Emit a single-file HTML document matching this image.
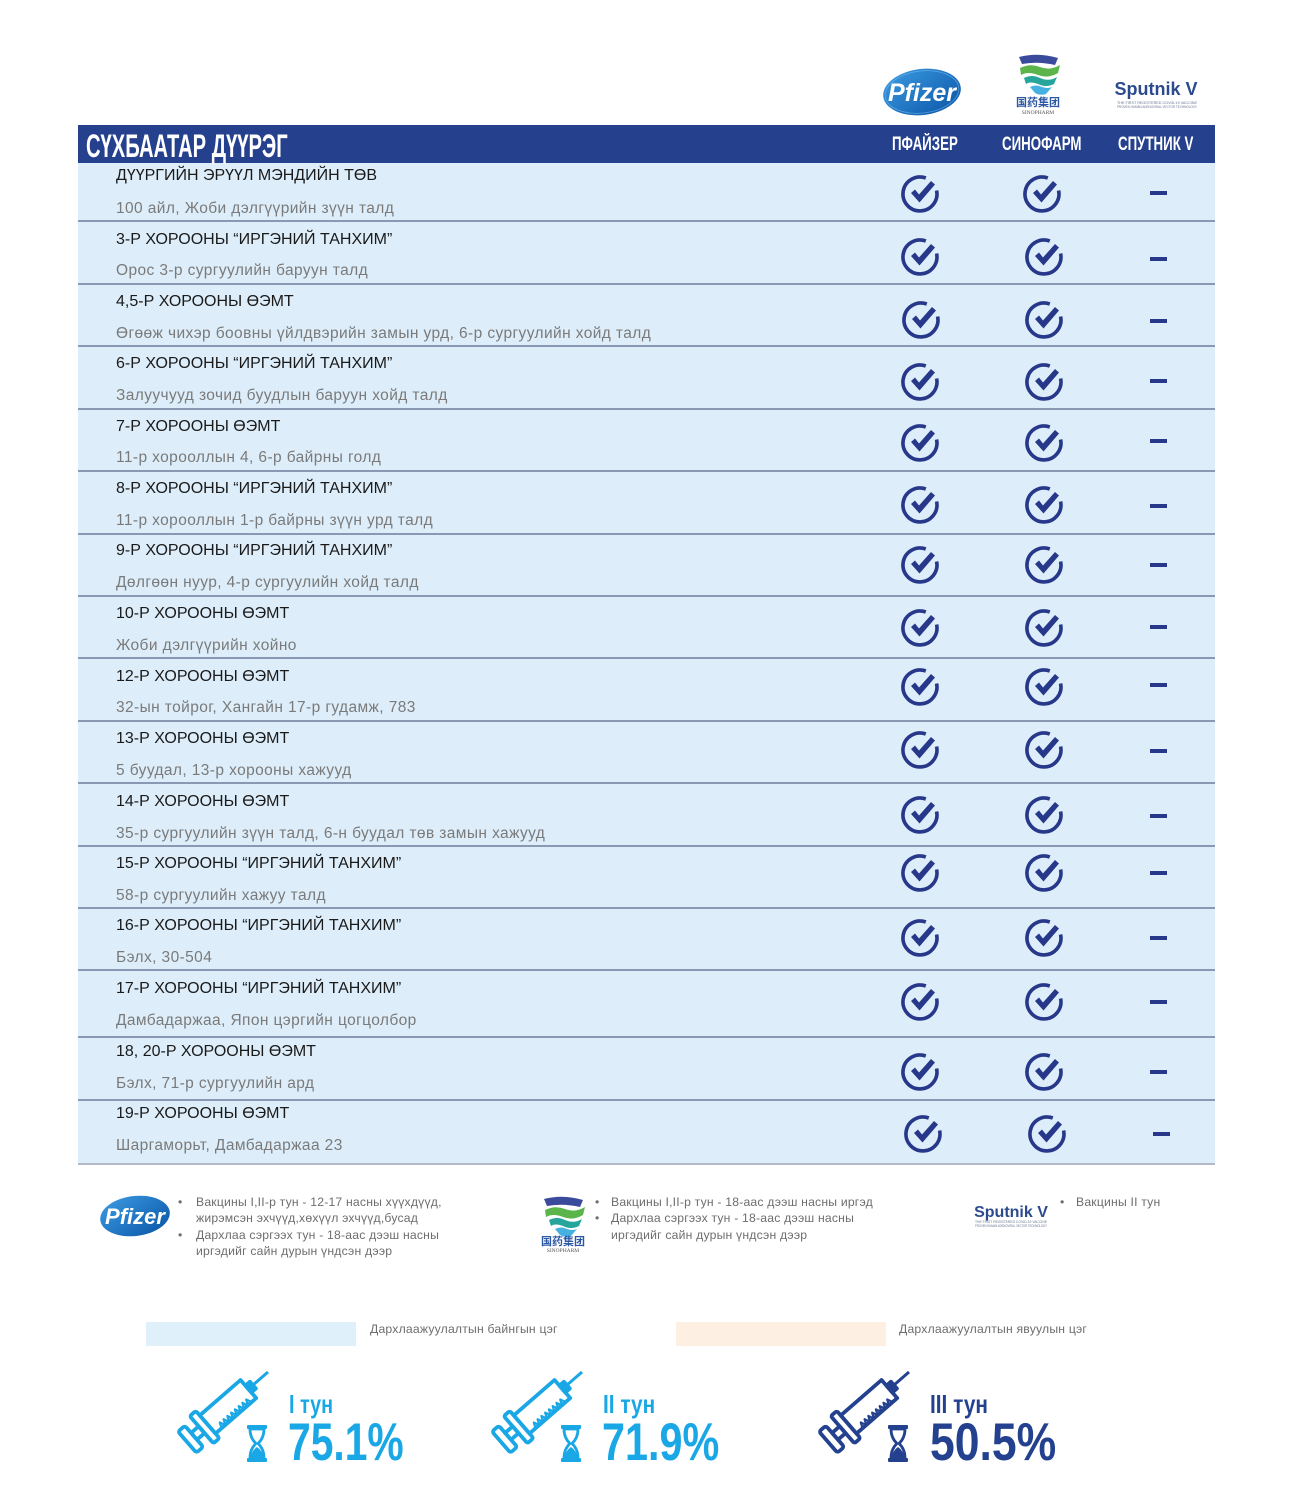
<!DOCTYPE html>
<html><head><meta charset="utf-8">
<style>
html,body{margin:0;padding:0;background:#fff;}
#w{position:relative;width:1293px;height:1500px;overflow:hidden;background:#fff;font-family:"Liberation Sans","Noto Sans CJK SC",sans-serif;}
svg.bg{position:absolute;left:0;top:0;}
.a{position:absolute;white-space:nowrap;line-height:1;}
.c{transform-origin:0 0;font-weight:bold;}
.t{left:116px;font-size:16px;color:#1a1a1a;}
.s{left:116px;font-size:15.5px;color:#7a7a7a;letter-spacing:0.4px;}
.f{font-size:12.2px;color:#6d6d6d;letter-spacing:0.2px;}
.h{color:#fff;font-size:19px;transform:scaleX(0.70);}
</style></head><body><div id="w">
<svg class="bg" width="1293" height="1500" viewBox="0 0 1293 1500" xmlns="http://www.w3.org/2000/svg">
<defs>
<linearGradient id="pg" x1="0" y1="0" x2="1" y2="1">
<stop offset="0" stop-color="#3c9be2"/><stop offset="1" stop-color="#0a55a6"/>
</linearGradient>
</defs>
<!-- table -->
<rect x="78" y="125" width="1137" height="38" fill="#25408d"/>
<rect x="78" y="163" width="1137" height="1001" fill="#ddeefa"/>
<g fill="#8a98b3">
<rect x="78" y="220" width="1137" height="2"/>
<rect x="78" y="283" width="1137" height="2"/>
<rect x="78" y="345" width="1137" height="2"/>
<rect x="78" y="408" width="1137" height="2"/>
<rect x="78" y="470" width="1137" height="2"/>
<rect x="78" y="533" width="1137" height="2"/>
<rect x="78" y="595" width="1137" height="2"/>
<rect x="78" y="657" width="1137" height="2"/>
<rect x="78" y="720" width="1137" height="2"/>
<rect x="78" y="782" width="1137" height="2"/>
<rect x="78" y="845" width="1137" height="2"/>
<rect x="78" y="907" width="1137" height="2"/>
<rect x="78" y="969" width="1137" height="2"/>
<rect x="78" y="1036" width="1137" height="2"/>
<rect x="78" y="1099" width="1137" height="2"/>
</g>
<rect x="78" y="1163" width="1137" height="2" fill="#b3b9c4"/>

<!-- checks -->
<g fill="none" stroke="#27388a" stroke-width="3.6">
<path transform="translate(920,194)" d="M5.8,-16 A17,17 0 1 0 16.6,-3.5"/>
<path transform="translate(1042,194)" d="M5.8,-16 A17,17 0 1 0 16.6,-3.5"/>
<path transform="translate(920,257)" d="M5.8,-16 A17,17 0 1 0 16.6,-3.5"/>
<path transform="translate(1044,257)" d="M5.8,-16 A17,17 0 1 0 16.6,-3.5"/>
<path transform="translate(921,320)" d="M5.8,-16 A17,17 0 1 0 16.6,-3.5"/>
<path transform="translate(1044,320)" d="M5.8,-16 A17,17 0 1 0 16.6,-3.5"/>
<path transform="translate(920,382)" d="M5.8,-16 A17,17 0 1 0 16.6,-3.5"/>
<path transform="translate(1044,382)" d="M5.8,-16 A17,17 0 1 0 16.6,-3.5"/>
<path transform="translate(920,443)" d="M5.8,-16 A17,17 0 1 0 16.6,-3.5"/>
<path transform="translate(1044,443)" d="M5.8,-16 A17,17 0 1 0 16.6,-3.5"/>
<path transform="translate(920,505)" d="M5.8,-16 A17,17 0 1 0 16.6,-3.5"/>
<path transform="translate(1044,505)" d="M5.8,-16 A17,17 0 1 0 16.6,-3.5"/>
<path transform="translate(920,565)" d="M5.8,-16 A17,17 0 1 0 16.6,-3.5"/>
<path transform="translate(1044,565)" d="M5.8,-16 A17,17 0 1 0 16.6,-3.5"/>
<path transform="translate(920,628)" d="M5.8,-16 A17,17 0 1 0 16.6,-3.5"/>
<path transform="translate(1044,628)" d="M5.8,-16 A17,17 0 1 0 16.6,-3.5"/>
<path transform="translate(920,687)" d="M5.8,-16 A17,17 0 1 0 16.6,-3.5"/>
<path transform="translate(1044,687)" d="M5.8,-16 A17,17 0 1 0 16.6,-3.5"/>
<path transform="translate(920,750)" d="M5.8,-16 A17,17 0 1 0 16.6,-3.5"/>
<path transform="translate(1044,750)" d="M5.8,-16 A17,17 0 1 0 16.6,-3.5"/>
<path transform="translate(920,815)" d="M5.8,-16 A17,17 0 1 0 16.6,-3.5"/>
<path transform="translate(1044,815)" d="M5.8,-16 A17,17 0 1 0 16.6,-3.5"/>
<path transform="translate(920,873)" d="M5.8,-16 A17,17 0 1 0 16.6,-3.5"/>
<path transform="translate(1044,873)" d="M5.8,-16 A17,17 0 1 0 16.6,-3.5"/>
<path transform="translate(920,938)" d="M5.8,-16 A17,17 0 1 0 16.6,-3.5"/>
<path transform="translate(1044,938)" d="M5.8,-16 A17,17 0 1 0 16.6,-3.5"/>
<path transform="translate(920,1002)" d="M5.8,-16 A17,17 0 1 0 16.6,-3.5"/>
<path transform="translate(1044,1002)" d="M5.8,-16 A17,17 0 1 0 16.6,-3.5"/>
<path transform="translate(920,1072)" d="M5.8,-16 A17,17 0 1 0 16.6,-3.5"/>
<path transform="translate(1044,1072)" d="M5.8,-16 A17,17 0 1 0 16.6,-3.5"/>
<path transform="translate(923,1134)" d="M5.8,-16 A17,17 0 1 0 16.6,-3.5"/>
<path transform="translate(1047,1134)" d="M5.8,-16 A17,17 0 1 0 16.6,-3.5"/>
</g>
<g fill="#27388a">
<path transform="translate(920,194)" d="M-9,-1 L-5,-4.5 L-1,0.5 L11,-13 L15,-9.5 L-0.5,8.5 Z"/>
<path transform="translate(1042,194)" d="M-9,-1 L-5,-4.5 L-1,0.5 L11,-13 L15,-9.5 L-0.5,8.5 Z"/>
<path transform="translate(920,257)" d="M-9,-1 L-5,-4.5 L-1,0.5 L11,-13 L15,-9.5 L-0.5,8.5 Z"/>
<path transform="translate(1044,257)" d="M-9,-1 L-5,-4.5 L-1,0.5 L11,-13 L15,-9.5 L-0.5,8.5 Z"/>
<path transform="translate(921,320)" d="M-9,-1 L-5,-4.5 L-1,0.5 L11,-13 L15,-9.5 L-0.5,8.5 Z"/>
<path transform="translate(1044,320)" d="M-9,-1 L-5,-4.5 L-1,0.5 L11,-13 L15,-9.5 L-0.5,8.5 Z"/>
<path transform="translate(920,382)" d="M-9,-1 L-5,-4.5 L-1,0.5 L11,-13 L15,-9.5 L-0.5,8.5 Z"/>
<path transform="translate(1044,382)" d="M-9,-1 L-5,-4.5 L-1,0.5 L11,-13 L15,-9.5 L-0.5,8.5 Z"/>
<path transform="translate(920,443)" d="M-9,-1 L-5,-4.5 L-1,0.5 L11,-13 L15,-9.5 L-0.5,8.5 Z"/>
<path transform="translate(1044,443)" d="M-9,-1 L-5,-4.5 L-1,0.5 L11,-13 L15,-9.5 L-0.5,8.5 Z"/>
<path transform="translate(920,505)" d="M-9,-1 L-5,-4.5 L-1,0.5 L11,-13 L15,-9.5 L-0.5,8.5 Z"/>
<path transform="translate(1044,505)" d="M-9,-1 L-5,-4.5 L-1,0.5 L11,-13 L15,-9.5 L-0.5,8.5 Z"/>
<path transform="translate(920,565)" d="M-9,-1 L-5,-4.5 L-1,0.5 L11,-13 L15,-9.5 L-0.5,8.5 Z"/>
<path transform="translate(1044,565)" d="M-9,-1 L-5,-4.5 L-1,0.5 L11,-13 L15,-9.5 L-0.5,8.5 Z"/>
<path transform="translate(920,628)" d="M-9,-1 L-5,-4.5 L-1,0.5 L11,-13 L15,-9.5 L-0.5,8.5 Z"/>
<path transform="translate(1044,628)" d="M-9,-1 L-5,-4.5 L-1,0.5 L11,-13 L15,-9.5 L-0.5,8.5 Z"/>
<path transform="translate(920,687)" d="M-9,-1 L-5,-4.5 L-1,0.5 L11,-13 L15,-9.5 L-0.5,8.5 Z"/>
<path transform="translate(1044,687)" d="M-9,-1 L-5,-4.5 L-1,0.5 L11,-13 L15,-9.5 L-0.5,8.5 Z"/>
<path transform="translate(920,750)" d="M-9,-1 L-5,-4.5 L-1,0.5 L11,-13 L15,-9.5 L-0.5,8.5 Z"/>
<path transform="translate(1044,750)" d="M-9,-1 L-5,-4.5 L-1,0.5 L11,-13 L15,-9.5 L-0.5,8.5 Z"/>
<path transform="translate(920,815)" d="M-9,-1 L-5,-4.5 L-1,0.5 L11,-13 L15,-9.5 L-0.5,8.5 Z"/>
<path transform="translate(1044,815)" d="M-9,-1 L-5,-4.5 L-1,0.5 L11,-13 L15,-9.5 L-0.5,8.5 Z"/>
<path transform="translate(920,873)" d="M-9,-1 L-5,-4.5 L-1,0.5 L11,-13 L15,-9.5 L-0.5,8.5 Z"/>
<path transform="translate(1044,873)" d="M-9,-1 L-5,-4.5 L-1,0.5 L11,-13 L15,-9.5 L-0.5,8.5 Z"/>
<path transform="translate(920,938)" d="M-9,-1 L-5,-4.5 L-1,0.5 L11,-13 L15,-9.5 L-0.5,8.5 Z"/>
<path transform="translate(1044,938)" d="M-9,-1 L-5,-4.5 L-1,0.5 L11,-13 L15,-9.5 L-0.5,8.5 Z"/>
<path transform="translate(920,1002)" d="M-9,-1 L-5,-4.5 L-1,0.5 L11,-13 L15,-9.5 L-0.5,8.5 Z"/>
<path transform="translate(1044,1002)" d="M-9,-1 L-5,-4.5 L-1,0.5 L11,-13 L15,-9.5 L-0.5,8.5 Z"/>
<path transform="translate(920,1072)" d="M-9,-1 L-5,-4.5 L-1,0.5 L11,-13 L15,-9.5 L-0.5,8.5 Z"/>
<path transform="translate(1044,1072)" d="M-9,-1 L-5,-4.5 L-1,0.5 L11,-13 L15,-9.5 L-0.5,8.5 Z"/>
<path transform="translate(923,1134)" d="M-9,-1 L-5,-4.5 L-1,0.5 L11,-13 L15,-9.5 L-0.5,8.5 Z"/>
<path transform="translate(1047,1134)" d="M-9,-1 L-5,-4.5 L-1,0.5 L11,-13 L15,-9.5 L-0.5,8.5 Z"/>
<!-- dashes -->
<rect x="1150" y="191" width="17" height="4"/>
<rect x="1150" y="257" width="17" height="4"/>
<rect x="1150" y="319" width="17" height="4"/>
<rect x="1150" y="379" width="17" height="4"/>
<rect x="1150" y="439" width="17" height="4"/>
<rect x="1150" y="504" width="17" height="4"/>
<rect x="1150" y="563" width="17" height="4"/>
<rect x="1150" y="625" width="17" height="4"/>
<rect x="1150" y="683" width="17" height="4"/>
<rect x="1150" y="749" width="17" height="4"/>
<rect x="1150" y="814" width="17" height="4"/>
<rect x="1150" y="871" width="17" height="4"/>
<rect x="1150" y="936" width="17" height="4"/>
<rect x="1150" y="1000" width="17" height="4"/>
<rect x="1150" y="1070" width="17" height="4"/>
<rect x="1153" y="1132" width="17" height="4"/>
</g>

<!-- top logos -->
<g transform="translate(922,92) rotate(-7)"><ellipse rx="39" ry="23" fill="url(#pg)"/><ellipse rx="37" ry="21" fill="none" stroke="#7fc0f0" stroke-width="0.8" opacity="0.6"/></g>
<text x="922" y="101" text-anchor="middle" font-family="Liberation Sans" font-style="italic" font-weight="bold" font-size="25" fill="#fff">Pfizer</text>

<g>
<path d="M1019,57 Q1038,52 1058,58 L1055,65 Q1038,61 1022,64 Z" fill="#3a4b9b"/>
<path d="M1020,68 Q1030,63 1040,67 Q1050,71 1060,65 L1058,73 Q1048,79 1038,75 Q1028,71 1021,75 Z" fill="#5bb54b"/>
<path d="M1024,78 Q1032,74 1040,78 Q1049,82 1057,77 L1054,84 Q1046,88 1038,84 Q1030,81 1026,84 Z" fill="#25a59b"/>
<path d="M1030,87 Q1036,84 1042,87 Q1048,89 1052,87 L1046,94 Q1040,96 1035,93 Z" fill="#46b1e1"/>
<text x="1038" y="106" text-anchor="middle" font-family="Noto Sans CJK SC, sans-serif" font-size="11" font-weight="bold" fill="#2b57a3">国药集团</text>
<text x="1038" y="114" text-anchor="middle" font-family="Liberation Serif, serif" font-size="5.5" fill="#555">SINOPHARM</text>
</g>

<text x="1156" y="95" text-anchor="middle" font-family="Liberation Sans" font-weight="bold" font-size="18" fill="#2c4a8e">Sputnik V</text>
<text x="1117" y="104" font-family="Liberation Sans" font-size="3.6" fill="#6a7590" textLength="80" lengthAdjust="spacingAndGlyphs">THE FIRST REGISTERED COVID-19 VACCINE</text>
<text x="1117" y="108" font-family="Liberation Sans" font-size="3.6" fill="#6a7590" textLength="80" lengthAdjust="spacingAndGlyphs">PROVEN HUMAN ADENOVIRAL VECTOR TECHNOLOGY</text>

<!-- footer logos -->
<g transform="translate(135,1216) rotate(-7)"><ellipse rx="35" ry="20" fill="url(#pg)"/></g>
<text x="135" y="1224" text-anchor="middle" font-family="Liberation Sans" font-style="italic" font-weight="bold" font-size="22" fill="#fff">Pfizer</text>

<g transform="translate(-475,1142)">
<path d="M1019,57 Q1038,52 1058,58 L1055,65 Q1038,61 1022,64 Z" fill="#3a4b9b"/>
<path d="M1020,68 Q1030,63 1040,67 Q1050,71 1060,65 L1058,73 Q1048,79 1038,75 Q1028,71 1021,75 Z" fill="#5bb54b"/>
<path d="M1024,78 Q1032,74 1040,78 Q1049,82 1057,77 L1054,84 Q1046,88 1038,84 Q1030,81 1026,84 Z" fill="#25a59b"/>
<path d="M1030,87 Q1036,84 1042,87 Q1048,89 1052,87 L1046,94 Q1040,96 1035,93 Z" fill="#46b1e1"/>
<text x="1038" y="103" text-anchor="middle" font-family="Noto Sans CJK SC, sans-serif" font-size="11" font-weight="bold" fill="#2b57a3">国药集团</text>
<text x="1038" y="110" text-anchor="middle" font-family="Liberation Serif, serif" font-size="5.5" fill="#555">SINOPHARM</text>
</g>

<text x="1011" y="1217" text-anchor="middle" font-family="Liberation Sans" font-weight="bold" font-size="16" fill="#2c4a8e">Sputnik V</text>
<text x="975" y="1223" font-family="Liberation Sans" font-size="3.2" fill="#6a7590" textLength="72" lengthAdjust="spacingAndGlyphs">THE FIRST REGISTERED COVID-19 VACCINE</text>
<text x="975" y="1227" font-family="Liberation Sans" font-size="3.2" fill="#6a7590" textLength="72" lengthAdjust="spacingAndGlyphs">PROVEN HUMAN ADENOVIRAL VECTOR TECHNOLOGY</text>

<!-- legend -->
<rect x="146" y="1322" width="210" height="24" fill="#dff0fb"/>
<rect x="676" y="1322" width="210" height="24" fill="#fdefe2"/>

<!-- syringes -->
<g transform="translate(169,1360)" fill="none" stroke="#1aa7e5" stroke-width="3.8" stroke-linejoin="round">
<g transform="translate(99,12) rotate(139)">
<line x1="0" y1="0" x2="20" y2="0" stroke-width="3"/>
<rect x="20" y="-4.5" width="6" height="9" fill="#1aa7e5"/>
<rect x="26" y="-12" width="54" height="24"/>
<path stroke-width="2.2" d="M32,-12 L34.5,-6.5 L37,-12 L39.5,-6.5 L42,-12 L44.5,-6.5 L47,-12 L49.5,-6.5 L52,-12 L54.5,-6.5 L57,-12 L59.5,-6.5 L62,-12 L64.5,-6.5 L67,-12 L69.5,-6.5 L72,-12"/>
<rect x="80" y="-18" width="8" height="36" rx="2"/>
<rect x="88" y="-4.5" width="10" height="9"/>
<rect x="98" y="-14" width="9" height="28" rx="2.5"/>
</g>
<rect x="78" y="65" width="20" height="4" rx="1" fill="#1aa7e5" stroke="none"/>
<rect x="78" y="98" width="20" height="4" rx="1" fill="#1aa7e5" stroke="none"/>
<path stroke-width="2.8" d="M81,69 L95,69 Q95,78 89,83.5 Q95,89 95,98 L81,98 Q81,89 87,83.5 Q81,78 81,69 Z"/>
<path fill="#1aa7e5" stroke="none" d="M82,98 L94,98 Q94,91 88,87 Q82,91 82,98 Z"/>
</g>
<g transform="translate(483,1360)" fill="none" stroke="#1aa7e5" stroke-width="3.8" stroke-linejoin="round">
<g transform="translate(99,12) rotate(139)">
<line x1="0" y1="0" x2="20" y2="0" stroke-width="3"/>
<rect x="20" y="-4.5" width="6" height="9" fill="#1aa7e5"/>
<rect x="26" y="-12" width="54" height="24"/>
<path stroke-width="2.2" d="M32,-12 L34.5,-6.5 L37,-12 L39.5,-6.5 L42,-12 L44.5,-6.5 L47,-12 L49.5,-6.5 L52,-12 L54.5,-6.5 L57,-12 L59.5,-6.5 L62,-12 L64.5,-6.5 L67,-12 L69.5,-6.5 L72,-12"/>
<rect x="80" y="-18" width="8" height="36" rx="2"/>
<rect x="88" y="-4.5" width="10" height="9"/>
<rect x="98" y="-14" width="9" height="28" rx="2.5"/>
</g>
<rect x="78" y="65" width="20" height="4" rx="1" fill="#1aa7e5" stroke="none"/>
<rect x="78" y="98" width="20" height="4" rx="1" fill="#1aa7e5" stroke="none"/>
<path stroke-width="2.8" d="M81,69 L95,69 Q95,78 89,83.5 Q95,89 95,98 L81,98 Q81,89 87,83.5 Q81,78 81,69 Z"/>
<path fill="#1aa7e5" stroke="none" d="M82,98 L94,98 Q94,91 88,87 Q82,91 82,98 Z"/>
</g>
<g transform="translate(810,1360)" fill="none" stroke="#24418f" stroke-width="3.8" stroke-linejoin="round">
<g transform="translate(99,12) rotate(139)">
<line x1="0" y1="0" x2="20" y2="0" stroke-width="3"/>
<rect x="20" y="-4.5" width="6" height="9" fill="#24418f"/>
<rect x="26" y="-12" width="54" height="24"/>
<path stroke-width="2.2" d="M32,-12 L34.5,-6.5 L37,-12 L39.5,-6.5 L42,-12 L44.5,-6.5 L47,-12 L49.5,-6.5 L52,-12 L54.5,-6.5 L57,-12 L59.5,-6.5 L62,-12 L64.5,-6.5 L67,-12 L69.5,-6.5 L72,-12"/>
<rect x="80" y="-18" width="8" height="36" rx="2"/>
<rect x="88" y="-4.5" width="10" height="9"/>
<rect x="98" y="-14" width="9" height="28" rx="2.5"/>
</g>
<rect x="78" y="65" width="20" height="4" rx="1" fill="#24418f" stroke="none"/>
<rect x="78" y="98" width="20" height="4" rx="1" fill="#24418f" stroke="none"/>
<path stroke-width="2.8" d="M81,69 L95,69 Q95,78 89,83.5 Q95,89 95,98 L81,98 Q81,89 87,83.5 Q81,78 81,69 Z"/>
<path fill="#24418f" stroke="none" d="M82,98 L94,98 Q94,91 88,87 Q82,91 82,98 Z"/>
</g>
</svg>

<!-- header text -->
<div class="a c" style="left:86px;top:130px;font-size:32px;color:#fff;transform:scaleX(0.63);">СҮХБААТАР ДҮҮРЭГ</div>
<div class="a c h" style="left:892px;top:135px;">ПФАЙЗЕР</div>
<div class="a c h" style="left:1002px;top:135px;">СИНОФАРМ</div>
<div class="a c h" style="left:1118px;top:135px;">СПУТНИК V</div>

<!-- rows -->
<div class="a t" style="top:168px;">ДҮҮРГИЙН ЭРҮҮЛ МЭНДИЙН ТӨВ</div>
<div class="a s" style="top:201px;">100 айл, Жоби дэлгүүрийн зүүн талд</div>
<div class="a t" style="top:232px;">3-Р ХОРООНЫ “ИРГЭНИЙ ТАНХИМ”</div>
<div class="a s" style="top:263px;">Орос 3-р сургуулийн баруун талд</div>
<div class="a t" style="top:294px;">4,5-Р ХОРООНЫ ӨЭМТ</div>
<div class="a s" style="top:326px;">Өгөөж чихэр боовны үйлдвэрийн замын урд, 6-р сургуулийн хойд талд</div>
<div class="a t" style="top:356px;">6-Р ХОРООНЫ “ИРГЭНИЙ ТАНХИМ”</div>
<div class="a s" style="top:388px;">Залуучууд зочид буудлын баруун хойд талд</div>
<div class="a t" style="top:419px;">7-Р ХОРООНЫ ӨЭМТ</div>
<div class="a s" style="top:450px;">11-р хорооллын 4, 6-р байрны голд</div>
<div class="a t" style="top:481px;">8-Р ХОРООНЫ “ИРГЭНИЙ ТАНХИМ”</div>
<div class="a s" style="top:513px;">11-р хорооллын 1-р байрны зүүн урд талд</div>
<div class="a t" style="top:543px;">9-Р ХОРООНЫ “ИРГЭНИЙ ТАНХИМ”</div>
<div class="a s" style="top:575px;">Дөлгөөн нуур, 4-р сургуулийн хойд талд</div>
<div class="a t" style="top:606px;">10-Р ХОРООНЫ ӨЭМТ</div>
<div class="a s" style="top:638px;">Жоби дэлгүүрийн хойно</div>
<div class="a t" style="top:669px;">12-Р ХОРООНЫ ӨЭМТ</div>
<div class="a s" style="top:700px;">32-ын тойрог, Хангайн 17-р гудамж, 783</div>
<div class="a t" style="top:731px;">13-Р ХОРООНЫ ӨЭМТ</div>
<div class="a s" style="top:763px;">5 буудал, 13-р хорооны хажууд</div>
<div class="a t" style="top:794px;">14-Р ХОРООНЫ ӨЭМТ</div>
<div class="a s" style="top:826px;">35-р сургуулийн зүүн талд, 6-н буудал төв замын хажууд</div>
<div class="a t" style="top:856px;">15-Р ХОРООНЫ “ИРГЭНИЙ ТАНХИМ”</div>
<div class="a s" style="top:888px;">58-р сургуулийн хажуу талд</div>
<div class="a t" style="top:918px;">16-Р ХОРООНЫ “ИРГЭНИЙ ТАНХИМ”</div>
<div class="a s" style="top:950px;">Бэлх, 30-504</div>
<div class="a t" style="top:981px;">17-Р ХОРООНЫ “ИРГЭНИЙ ТАНХИМ”</div>
<div class="a s" style="top:1013px;">Дамбадаржаа, Япон цэргийн цогцолбор</div>
<div class="a t" style="top:1044px;">18, 20-Р ХОРООНЫ ӨЭМТ</div>
<div class="a s" style="top:1076px;">Бэлх, 71-р сургуулийн ард</div>
<div class="a t" style="top:1106px;">19-Р ХОРООНЫ ӨЭМТ</div>
<div class="a s" style="top:1138px;">Шаргаморьт, Дамбадаржаа 23</div>

<!-- footer notes -->
<div class="a f" style="left:178px;top:1196px;">•</div>
<div class="a f" style="left:196px;top:1196px;">Вакцины I,II-р тун - 12-17 насны хүүхдүүд,</div>
<div class="a f" style="left:196px;top:1212px;">жирэмсэн эхчүүд,хөхүүл эхчүүд,бусад</div>
<div class="a f" style="left:178px;top:1229px;">•</div>
<div class="a f" style="left:196px;top:1229px;">Дархлаа сэргээх тун - 18-аас дээш насны</div>
<div class="a f" style="left:196px;top:1245px;">иргэдийг сайн дурын үндсэн дээр</div>

<div class="a f" style="left:595px;top:1196px;">•</div>
<div class="a f" style="left:611px;top:1196px;">Вакцины I,II-р тун - 18-аас дээш насны иргэд</div>
<div class="a f" style="left:595px;top:1212px;">•</div>
<div class="a f" style="left:611px;top:1212px;">Дархлаа сэргээх тун - 18-аас дээш насны</div>
<div class="a f" style="left:611px;top:1229px;">иргэдийг сайн дурын үндсэн дээр</div>

<div class="a f" style="left:1060px;top:1196px;">•</div>
<div class="a f" style="left:1076px;top:1196px;">Вакцины II тун</div>

<!-- legend text -->
<div class="a f" style="left:370px;top:1323px;">Дархлаажуулалтын байнгын цэг</div>
<div class="a f" style="left:899px;top:1323px;">Дархлаажуулалтын явуулын цэг</div>

<!-- stats -->
<div class="a c" style="left:289px;top:1391px;font-size:26px;color:#1aa7e5;transform:scaleX(0.76);">I тун</div>
<div class="a c" style="left:288px;top:1416px;font-size:53px;color:#1aa7e5;transform:scaleX(0.77);">75.1%</div>
<div class="a c" style="left:603px;top:1391px;font-size:26px;color:#1aa7e5;transform:scaleX(0.8);">II тун</div>
<div class="a c" style="left:602px;top:1416px;font-size:53px;color:#1aa7e5;transform:scaleX(0.78);">71.9%</div>
<div class="a c" style="left:930px;top:1391px;font-size:26px;color:#24418f;transform:scaleX(0.8);">III тун</div>
<div class="a c" style="left:930px;top:1416px;font-size:53px;color:#24418f;transform:scaleX(0.84);">50.5%</div>
</div></body></html>
